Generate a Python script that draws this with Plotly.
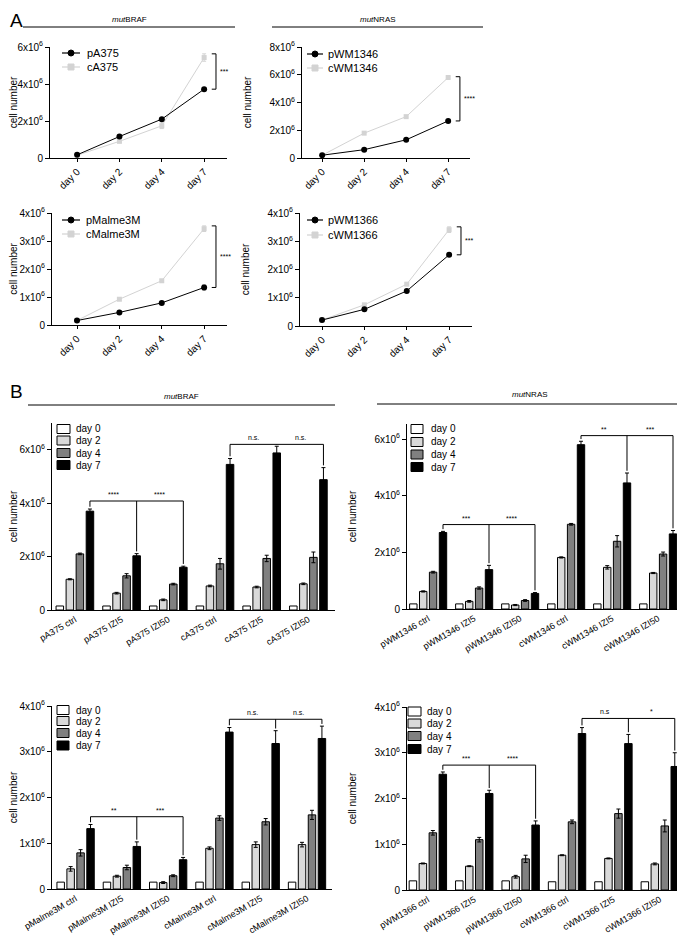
import plotly.graph_objects as go

# The page body adds an 8px margin, so the figure is drawn 8px smaller and all
# reference pixel positions are shifted by that offset.
OFF = 8
W, H = 685 - OFF, 943 - OFF
FONT = "Liberation Sans, Arial, sans-serif"

def px(x):
    return (x - OFF) / W

def py(y):
    return 1 - (y - OFF) / H

# ---------------- DATA : panel A (growth curves, x10^6 cells) ----------------
days = ["day 0", "day 2", "day 4", "day 7"]

pA375 = [0.17, 1.16, 2.10, 3.72]
cA375 = [0.15, 0.90, 1.74, 5.43]
pA375_err = [0.02, 0.04, 0.04, 0.05]
cA375_err = [0.02, 0.05, 0.15, 0.20]

pWM1346 = [0.20, 0.60, 1.31, 2.67]
cWM1346 = [0.20, 1.79, 2.98, 5.80]
pWM1346_err = [0.02, 0.03, 0.04, 0.05]
cWM1346_err = [0.02, 0.04, 0.05, 0.06]

pMalme3M = [0.16, 0.45, 0.79, 1.34]
cMalme3M = [0.16, 0.92, 1.58, 3.44]
pMalme3M_err = [0.02, 0.03, 0.04, 0.08]
cMalme3M_err = [0.02, 0.03, 0.04, 0.10]

pWM1366 = [0.21, 0.59, 1.24, 2.52]
cWM1366 = [0.21, 0.75, 1.48, 3.41]
pWM1366_err = [0.02, 0.02, 0.03, 0.05]
cWM1366_err = [0.02, 0.03, 0.04, 0.10]

sigA = ["***", "****", "****", "***"]

# ---------------- DATA : panel B (bar charts, x10^6 cells) ----------------
groups_A375 = ["pA375 ctrl", "pA375 IZI5", "pA375 IZI50", "cA375 ctrl", "cA375 IZI5", "cA375 IZI50"]
A375_d0 = [0.15, 0.15, 0.15, 0.15, 0.15, 0.15]
A375_d2 = [1.15, 0.63, 0.38, 0.90, 0.86, 0.98]
A375_d4 = [2.10, 1.28, 0.97, 1.73, 1.93, 1.97]
A375_d7 = [3.70, 2.03, 1.60, 5.45, 5.88, 4.88]
A375_e2 = [0.02, 0.03, 0.03, 0.03, 0.03, 0.03]
A375_e4 = [0.03, 0.08, 0.03, 0.20, 0.12, 0.20]
A375_e7 = [0.08, 0.08, 0.04, 0.22, 0.25, 0.45]
A375_sig = ["****", "****", "n.s.", "n.s."]
A375_brk = [4.08, 6.20]

groups_WM1346 = ["pWM1346 ctrl", "pWM1346 IZI5", "pWM1346 IZI50", "cWM1346 ctrl", "cWM1346 IZI5", "cWM1346 IZI50"]
WM1346_d0 = [0.18, 0.18, 0.18, 0.18, 0.18, 0.18]
WM1346_d2 = [0.62, 0.27, 0.14, 1.82, 1.47, 1.27]
WM1346_d4 = [1.30, 0.74, 0.30, 2.99, 2.39, 1.94]
WM1346_d7 = [2.70, 1.39, 0.55, 5.80, 4.45, 2.65]
WM1346_e2 = [0.02, 0.03, 0.02, 0.02, 0.06, 0.02]
WM1346_e4 = [0.03, 0.04, 0.03, 0.03, 0.20, 0.07]
WM1346_e7 = [0.04, 0.15, 0.03, 0.12, 0.35, 0.12]
WM1346_sig = ["***", "****", "**", "***"]
WM1346_brk = [2.98, 6.12]

groups_Malme3M = ["pMalme3M ctrl", "pMalme3M IZI5", "pMalme3M IZI50", "cMalme3M ctrl", "cMalme3M IZI5", "cMalme3M IZI50"]
Malme3M_d0 = [0.15, 0.15, 0.15, 0.15, 0.15, 0.15]
Malme3M_d2 = [0.44, 0.28, 0.14, 0.89, 0.97, 0.97]
Malme3M_d4 = [0.79, 0.47, 0.29, 1.55, 1.47, 1.62]
Malme3M_d7 = [1.32, 0.93, 0.64, 3.43, 3.18, 3.29]
Malme3M_e2 = [0.05, 0.02, 0.02, 0.03, 0.06, 0.05]
Malme3M_e4 = [0.07, 0.05, 0.02, 0.05, 0.07, 0.10]
Malme3M_e7 = [0.09, 0.10, 0.05, 0.10, 0.28, 0.27]
Malme3M_sig = ["**", "***", "n.s.", "n.s."]
Malme3M_brk = [1.58, 3.71]

groups_WM1366 = ["pWM1366 ctrl", "pWM1366 IZI5", "pWM1366 IZI50", "cWM1366 ctrl", "cWM1366 IZI5", "cWM1366 IZI50"]
WM1366_d0 = [0.20, 0.20, 0.20, 0.18, 0.18, 0.18]
WM1366_d2 = [0.58, 0.52, 0.29, 0.76, 0.69, 0.57]
WM1366_d4 = [1.25, 1.10, 0.68, 1.49, 1.67, 1.40]
WM1366_d7 = [2.53, 2.11, 1.42, 3.42, 3.20, 2.70]
WM1366_e2 = [0.01, 0.01, 0.03, 0.01, 0.01, 0.02]
WM1366_e4 = [0.05, 0.05, 0.08, 0.04, 0.10, 0.13]
WM1366_e7 = [0.05, 0.07, 0.09, 0.13, 0.20, 0.30]
WM1366_sig = ["***", "****", "n.s", "*"]
WM1366_brk = [2.73, 3.75]

day_colors = ["#ffffff", "#d9d9d9", "#808080", "#000000"]
P_COLOR = "#000000"
C_COLOR = "#d3d3d3"

# ---------------- LAYOUT helpers ----------------
fig = go.Figure()
layout = dict(
    width=W, height=H, margin=dict(l=0, r=0, t=0, b=0, autoexpand=False),
    paper_bgcolor="white", plot_bgcolor="white",
    font=dict(family=FONT, size=10, color="black"),
    showlegend=False, barmode="group", bargap=0.14, bargroupgap=0.25,
)
shapes = []
annotations = []

def sup_ticks(vals):
    return ["0" if v == 0 else "%gx10<sup>6</sup>" % v for v in vals]

def axis_pair(i, xdom, ydom, xr, yr, yticks, xticks, xtext, xangle, xtickshow, xfont):
    xs = "xaxis" if i == 1 else "xaxis%d" % i
    ys = "yaxis" if i == 1 else "yaxis%d" % i
    xa = "x" if i == 1 else "x%d" % i
    ya = "y" if i == 1 else "y%d" % i
    layout[xs] = dict(
        domain=[px(xdom[0]), px(xdom[1])], anchor=ya, range=xr, automargin=False,
        showline=True, linecolor="black", linewidth=1, showgrid=False, zeroline=False,
        ticks="outside" if xtickshow else "", ticklen=3, tickcolor="black",
        tickvals=xticks, ticktext=xtext, tickangle=xangle,
        tickfont=dict(size=xfont), fixedrange=True,
    )
    layout[ys] = dict(
        domain=[py(ydom[0]), py(ydom[1])], anchor=xa, range=yr, automargin=False,
        showline=True, linecolor="black", linewidth=1, showgrid=False, zeroline=False,
        ticks="outside", ticklen=4, tickcolor="black",
        tickvals=yticks, ticktext=sup_ticks(yticks), tickfont=dict(size=10),
        title=dict(text="cell number", font=dict(size=10)),
        fixedrange=True,
    )
    return xa, ya

def legend_text(x, y, text, size):
    annotations.append(dict(xref="paper", yref="paper", x=px(x), y=py(y), text=text,
                            showarrow=False, xanchor="left", yanchor="middle",
                            font=dict(size=size)))

# ---------------- Panel A ----------------
panelsA = [
    ("pA375", "cA375", pA375, cA375, pA375_err, cA375_err, sigA[0],
     (50, 227), (158, 47), [-0.64, 3.54], [0, 6], [0, 2, 4, 6], (62, 80, 85, 53, 67)),
    ("pWM1346", "cWM1346", pWM1346, cWM1346, pWM1346_err, cWM1346_err, sigA[1],
     (302, 470), (158, 47), [-0.48, 3.52], [0, 8], [0, 2, 4, 6, 8], (307, 323, 326, 54, 68)),
    ("pMalme3M", "cMalme3M", pMalme3M, cMalme3M, pMalme3M_err, cMalme3M_err, sigA[2],
     (52, 227), (325, 213), [-0.59, 3.54], [0, 4], [0, 1, 2, 3, 4], (62, 80, 84, 220, 234)),
    ("pWM1366", "cWM1366", pWM1366, cWM1366, pWM1366_err, cWM1366_err, sigA[3],
     (300, 472), (326, 213), [-0.52, 3.54], [0, 4], [0, 1, 2, 3, 4], (307, 323, 326, 220, 235)),
]

for k, (pn, cn, pv, cv, pe, ce, sig, xd, yd, xr, yr, yt, lg) in enumerate(panelsA):
    i = k + 1
    xa, ya = axis_pair(i, xd, yd, xr, yr, yt, [0, 1, 2, 3], days, -45, True, 10)
    fig.add_trace(go.Scatter(
        x=[0, 1, 2, 3], y=cv, name=cn, mode="lines+markers", xaxis=xa, yaxis=ya,
        line=dict(color=C_COLOR, width=1), marker=dict(symbol="square", size=5, color=C_COLOR),
        error_y=dict(type="data", array=ce, color=C_COLOR, thickness=1, width=2),
    ))
    fig.add_trace(go.Scatter(
        x=[0, 1, 2, 3], y=pv, name=pn, mode="lines+markers", xaxis=xa, yaxis=ya,
        line=dict(color=P_COLOR, width=1), marker=dict(symbol="circle", size=6, color=P_COLOR),
        error_y=dict(type="data", array=pe, color=P_COLOR, thickness=1, width=2),
    ))
    # custom legend (line + marker + text)
    lx0, lx1, tx, r0, r1 = lg
    cx = (lx0 + lx1) / 2
    for (row, col, sym, name) in [(r0, P_COLOR, "circle", pn), (r1, C_COLOR, "rect", cn)]:
        shapes.append(dict(type="line", xref="paper", yref="paper", x0=px(lx0), x1=px(lx1),
                           y0=py(row), y1=py(row), line=dict(color=col, width=1.2)))
        shapes.append(dict(type=sym, xref="paper", yref="paper", xsizemode="pixel",
                           ysizemode="pixel", xanchor=px(cx), yanchor=py(row),
                           x0=-3, x1=3, y0=-3, y1=3, fillcolor=col, line=dict(color=col, width=1)))
        legend_text(tx, row, name, 11)
    # significance bracket
    top = cv[3] + ce[3]
    bot = pv[3]
    bx, bt = 3.28, 3.18
    shapes.append(dict(type="line", xref=xa, yref=ya, x0=bx, x1=bx, y0=bot, y1=top,
                       line=dict(color="black", width=1)))
    shapes.append(dict(type="line", xref=xa, yref=ya, x0=bt, x1=bx, y0=top, y1=top,
                       line=dict(color="black", width=1)))
    shapes.append(dict(type="line", xref=xa, yref=ya, x0=bt, x1=bx, y0=bot, y1=bot,
                       line=dict(color="black", width=1)))
    annotations.append(dict(xref=xa, yref=ya, x=bx + 0.04, y=(top + bot) / 2, text=sig,
                            showarrow=False, xanchor="left", yanchor="middle",
                            font=dict(size=7)))

# ---------------- Panel B ----------------
panelsB = [
    (groups_A375, [A375_d0, A375_d2, A375_d4, A375_d7], [None, A375_e2, A375_e4, A375_e7],
     A375_sig, A375_brk, (52, 335), (610, 423), [-0.49, 5.57], [0, 7], [0, 2, 4, 6],
     (57, 70, 74, [429, 440.5, 453, 465])),
    (groups_WM1346, [WM1346_d0, WM1346_d2, WM1346_d4, WM1346_d7], [None, WM1346_e2, WM1346_e4, WM1346_e7],
     WM1346_sig, WM1346_brk, (407, 683), (609, 424), [-0.46, 5.54], [0, 6.53], [0, 2, 4, 6],
     (411, 423, 429, [429, 442, 454.5, 467])),
    (groups_Malme3M, [Malme3M_d0, Malme3M_d2, Malme3M_d4, Malme3M_d7], [None, Malme3M_e2, Malme3M_e4, Malme3M_e7],
     Malme3M_sig, Malme3M_brk, (52, 332), (889, 706), [-0.51, 5.54], [0, 4], [0, 1, 2, 3, 4],
     (57, 69, 74, [710, 721, 733, 745.5])),
    (groups_WM1366, [WM1366_d0, WM1366_d2, WM1366_d4, WM1366_d7], [None, WM1366_e2, WM1366_e4, WM1366_e7],
     WM1366_sig, WM1366_brk, (407, 683), (890, 707), [-0.45, 5.5], [0, 4], [0, 1, 2, 3, 4],
     (408, 421, 425, [711.5, 723.5, 736, 749])),
]

dnames = ["day 0", "day 2", "day 4", "day 7"]
off7 = (1 - layout["bargap"]) * 0.375
for k, (grp, dvals, derrs, sigs, brk, xd, yd, xr, yr, yt, lg) in enumerate(panelsB):
    i = k + 5
    xpos = list(range(len(grp)))
    xa, ya = axis_pair(i, xd, yd, xr, yr, yt, xpos, grp, -30, False, 9)
    for d in range(4):
        ed = dict(type="data", array=derrs[d], color="black", thickness=1, width=2) if derrs[d] else None
        fig.add_trace(go.Bar(
            x=xpos, y=dvals[d], name=dnames[d], xaxis=xa, yaxis=ya,
            marker=dict(color=day_colors[d], line=dict(color="black", width=1)),
            error_y=ed,
        ))
    # custom legend (boxes + text)
    bx0, bx1, tx, rows = lg
    for d in range(4):
        shapes.append(dict(type="rect", xref="paper", yref="paper", x0=px(bx0), x1=px(bx1),
                           y0=py(rows[d] - 4.5), y1=py(rows[d] + 4.5),
                           fillcolor=day_colors[d], line=dict(color="black", width=1)))
        legend_text(tx, rows[d], dnames[d], 10)
    # significance brackets
    d7, e7 = dvals[3], derrs[3]
    gap = 0.012 * yr[1]
    for b, trio in enumerate([(0, 1, 2), (3, 4, 5)]):
        L = brk[b]
        xs_ = [g + off7 for g in trio]
        shapes.append(dict(type="line", xref=xa, yref=ya, x0=xs_[0], x1=xs_[2], y0=L, y1=L,
                           line=dict(color="black", width=1)))
        for gi, xx in zip(trio, xs_):
            shapes.append(dict(type="line", xref=xa, yref=ya, x0=xx, x1=xx, y0=L,
                               y1=d7[gi] + e7[gi] + gap, line=dict(color="black", width=1)))
        for s in range(2):
            annotations.append(dict(xref=xa, yref=ya, x=(xs_[s] + xs_[s + 1]) / 2, y=L,
                                    text=sigs[2 * b + s], showarrow=False,
                                    xanchor="center", yanchor="bottom", font=dict(size=7),
                                    yshift=1))

# ---------------- headers ----------------
headers = [
    ("<i>mut</i>BRAF", 23, 235, 27, 20),
    ("<i>mut</i>NRAS", 272, 483, 27, 20),
    ("<i>mut</i>BRAF", 28, 335, 405, 396),
    ("<i>mut</i>NRAS", 377, 683, 404, 395),
]
for txt, x0, x1, yl, yt_ in headers:
    shapes.append(dict(type="line", xref="paper", yref="paper", x0=px(x0), x1=px(x1),
                       y0=py(yl), y1=py(yl), line=dict(color="black", width=1)))
    annotations.append(dict(xref="paper", yref="paper", x=px((x0 + x1) / 2), y=py(yt_),
                            text=txt, showarrow=False, xanchor="center", yanchor="middle",
                            font=dict(size=8)))

annotations.append(dict(xref="paper", yref="paper", x=px(OFF), y=1, text="A", showarrow=False,
                        xanchor="left", yanchor="top", font=dict(size=19)))
annotations.append(dict(xref="paper", yref="paper", x=px(OFF), y=py(391), text="B", showarrow=False,
                        xanchor="left", yanchor="middle", font=dict(size=19)))

layout["shapes"] = shapes
layout["annotations"] = annotations
fig.update_layout(**layout)

fig.write_html("out.html")
